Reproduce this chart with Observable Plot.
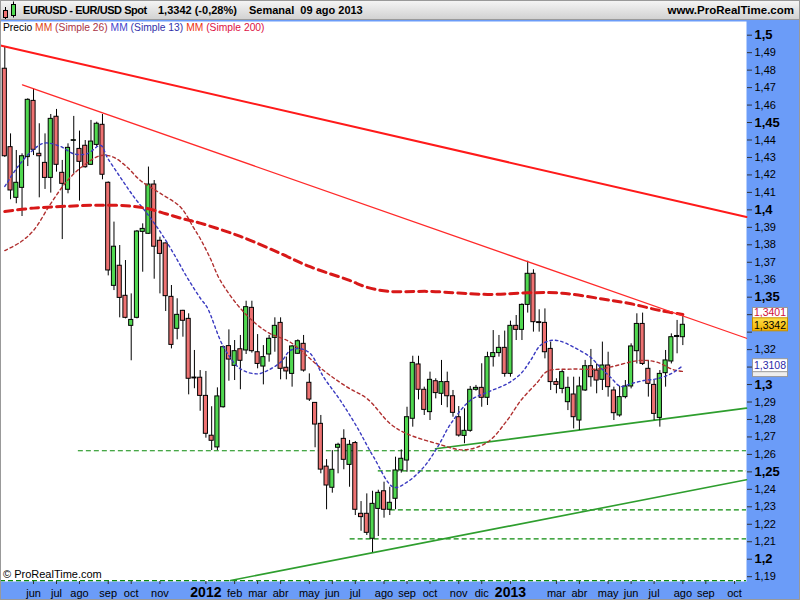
<!DOCTYPE html>
<html><head><meta charset="utf-8">
<script src="https://cdn.jsdelivr.net/npm/d3@7"></script>
<script src="https://cdn.jsdelivr.net/npm/@observablehq/plot@0.6"></script>
<style>
body{margin:0;background:#fff;}
#wrap{position:relative;width:800px;height:600px;overflow:hidden;font-family:"Liberation Sans",Arial,sans-serif;}
#hdr{position:absolute;left:0;top:0;width:800px;height:20px;background:linear-gradient(#f6f6f6,#d2d2d2);border-bottom:1px solid #9a9a9a;box-sizing:border-box;}
#hdr span{position:absolute;top:4px;font-weight:bold;font-size:11px;color:#000;white-space:nowrap;}
#chart{position:absolute;left:0;top:20px;}
#legend{position:absolute;left:3px;top:22px;font-size:10.3px;white-space:nowrap;}
#copy{position:absolute;left:3px;top:568px;font-size:11px;color:#000;}
#border{position:absolute;left:0;top:0;width:800px;height:600px;box-shadow:inset 0 0 0 1px #999;pointer-events:none;}
</style></head>
<body>
<div id="wrap">
  <div id="chart"></div>
  <div id="hdr">
    <svg width="20" height="20" style="position:absolute;left:0;top:0">
      <line x1="5.5" y1="7" x2="5.5" y2="19" stroke="#000"/>
      <rect x="3.5" y="10.5" width="4" height="7" fill="#ee7272" stroke="#000"/>
      <line x1="13.5" y1="1.5" x2="13.5" y2="17.5" stroke="#000"/>
      <rect x="11.5" y="4.5" width="4" height="11" fill="#50d850" stroke="#000"/>
    </svg>
    <span style="left:23px;letter-spacing:-0.45px">EURUSD - EUR/USD Spot</span>
    <span style="left:158px">1,3342 (-0,28%)</span>
    <span style="left:249px">Semanal&nbsp; 09 ago 2013</span>
    <span style="right:6px;font-size:11.5px">www.ProRealTime.com</span>
  </div>
  <div id="legend"><span style="color:#000">Precio </span><span style="color:#dd4411">MM</span><span style="color:#aa3344"> (Simple 26) </span><span style="color:#4444cc">MM</span><span style="color:#3333aa"> (Simple 13) </span><span style="color:#ee3311">MM</span><span style="color:#dd1144"> (Simple 200)</span></div>
  <div id="copy">© ProRealTime.com</div>
  <div id="border"></div>
</div>
<script>
// ---- Weekly candles, index 0 = week of 2 May 2011, last = week of 5 Aug 2013 ----
const open = [1.4808,1.4359,1.4069,1.4126,1.4302,1.4624,1.4321,1.4269,1.4183,1.4533,
1.4212,1.4115,1.4395,1.4349,1.4367,1.4258,1.4372,1.4487,1.4155,1.3565,
1.3680,1.3508,1.3336,1.3382,1.3874,1.3863,1.4145,1.3823,1.3808,1.3502,
1.3319,1.3422,1.3376,1.3040,1.3039,1.2935,1.2707,1.2640,1.2870,1.3220,
1.3107,1.3202,1.3195,1.3439,1.3185,1.3103,1.3172,1.3267,1.3353,1.3096,
1.3061,1.3176,1.3233,1.3010,1.2895,1.2775,1.2530,1.2409,1.2638,1.2689,
1.2540,1.2665,1.2260,1.2260,1.2117,1.2288,1.2389,1.2283,1.2346,1.2508,
1.2565,1.2804,1.3115,1.2970,1.2842,1.3019,1.2947,1.3014,1.2933,1.2813,
1.2706,1.2735,1.2970,1.2981,1.2924,1.3157,1.3180,1.3210,1.3061,1.3336,
1.3313,1.3456,1.3634,1.3357,1.3353,1.3204,1.3014,1.2975,1.2899,1.2943,
1.2794,1.2966,1.3105,1.3080,1.3027,1.3109,1.2966,1.2823,1.2928,1.2989,
1.3191,1.3347,1.3090,1.2998,1.2809,1.3065,1.3132,1.3272,1.3271];
const high = [1.4935,1.4435,1.4340,1.4321,1.4636,1.4693,1.4493,1.4435,1.4546,1.4575,
1.4283,1.4378,1.4535,1.4451,1.4397,1.4512,1.4502,1.4546,1.4160,1.3930,
1.3796,1.3710,1.3519,1.3882,1.3920,1.4245,1.4168,1.3844,1.3810,1.3567,
1.3491,1.3425,1.3405,1.3195,1.3080,1.3075,1.2873,1.2981,1.3220,1.3313,
1.3252,1.3281,1.3477,1.3477,1.3286,1.3223,1.3281,1.3382,1.3382,1.3157,
1.3223,1.3256,1.3281,1.3061,1.2897,1.2823,1.2570,1.2622,1.2664,1.2741,
1.2680,1.2674,1.2330,1.2374,1.2389,1.2395,1.2441,1.2412,1.2584,1.2626,
1.2870,1.3162,1.3162,1.2985,1.3071,1.3033,1.3138,1.3071,1.2966,1.2874,
1.2861,1.2989,1.2995,1.3119,1.3185,1.3309,1.3281,1.3306,1.3363,1.3395,
1.3462,1.3706,1.3657,1.3428,1.3433,1.3243,1.3033,1.3081,1.3042,1.3042,
1.3042,1.3138,1.3201,1.3118,1.3243,1.3185,1.2985,1.2989,1.3023,1.3233,
1.3405,1.3409,1.3138,1.3023,1.3080,1.3195,1.3290,1.3367,1.3395];
const low = [1.4300,1.4058,1.4035,1.3962,1.4248,1.4311,1.4069,1.4117,1.4096,1.4216,
1.3830,1.4092,1.4206,1.4050,1.4239,1.4254,1.4359,1.4172,1.3622,1.3538,
1.3382,1.3376,1.3136,1.3376,1.3643,1.3860,1.3603,1.3519,1.3418,1.3204,
1.3256,1.3271,1.2941,1.2976,1.2847,1.2693,1.2622,1.2622,1.2865,1.3019,
1.3023,1.2970,1.3172,1.3180,1.3090,1.2998,1.3128,1.3185,1.3027,1.3027,
1.2985,1.3172,1.3071,1.2903,1.2638,1.2489,1.2283,1.2378,1.2489,1.2512,
1.2412,1.2250,1.2160,1.2136,1.2038,1.2130,1.2235,1.2250,1.2283,1.2493,
1.2498,1.2756,1.2912,1.2823,1.2794,1.2918,1.2880,1.2867,1.2813,1.2699,
1.2661,1.2727,1.2962,1.2870,1.2880,1.3100,1.3157,1.3042,1.3042,1.3252,
1.3252,1.3409,1.3300,1.3300,1.3147,1.2966,1.2947,1.2947,1.2851,1.2746,
1.2737,1.2960,1.2985,1.2947,1.2966,1.2928,1.2794,1.2813,1.2918,1.2975,
1.3118,1.3109,1.2928,1.2794,1.2756,1.2985,1.3118,1.3176,1.3223];
const close = [1.4307,1.4111,1.4155,1.4307,1.4630,1.4344,1.4307,1.4183,1.4521,1.4258,
1.4149,1.4355,1.4399,1.4275,1.4244,1.4391,1.4493,1.4201,1.3653,1.3789,
1.3496,1.3382,1.3370,1.3876,1.3891,1.4145,1.3789,1.3748,1.3506,1.3227,
1.3399,1.3365,1.3033,1.3035,1.2935,1.2718,1.2678,1.2932,1.3214,1.3143,
1.3191,1.3136,1.3443,1.3191,1.3118,1.3157,1.3262,1.3336,1.3090,1.3075,
1.3218,1.3248,1.3080,1.2914,1.2771,1.2513,1.2422,1.2512,1.2655,1.2569,
1.2655,1.2283,1.2241,1.2151,1.2317,1.2380,1.2283,1.2323,1.2508,1.2575,
1.2813,1.3124,1.2970,1.2855,1.3027,1.2951,1.3014,1.2933,1.2838,1.2708,
1.2735,1.2970,1.2981,1.2924,1.3157,1.3180,1.3210,1.3061,1.3336,1.3313,
1.3456,1.3634,1.3357,1.3352,1.3185,1.3014,1.2998,1.3071,1.2981,1.2813,
1.2989,1.3105,1.3042,1.3023,1.3109,1.2985,1.2836,1.2928,1.2989,1.3218,
1.3347,1.3118,1.3004,1.2832,1.3061,1.3138,1.3271,1.3278,1.3342];

// ---- Moving averages (week index, value) ----
const ma200Idx = [0,5,11,17,22,25,28,31,34,41,48,53,60,63,67,74,84,91,97,104,109,114,118];
const ma200Val = [1.3991,1.4010,1.4021,1.4027,1.4021,1.4006,1.3978,1.3949,1.3924,1.3848,1.3750,1.3676,1.3596,1.3557,1.3533,1.3533,1.3516,1.3525,1.3523,1.3490,1.3462,1.3424,1.3401];
const ma26Idx = [0,2.7,5,8,10.9,13.7,16.7,18.9,21.3,23.6,27.1,30.6,32.8,34.1,35.8,37.5,41.6,45.7,49.7,55.5,59.6,63.1,67.1,70,75.3,79.9,84,87.4,89.8,92.7,94.4,98.4,103.7,110.6,113.5,116.4,118];
const ma26Val = [1.3767,1.3815,1.3882,1.4036,1.4168,1.4254,1.4311,1.4302,1.4244,1.4168,1.4094,1.4015,1.3901,1.3830,1.3720,1.3596,1.3414,1.3300,1.3242,1.3080,1.2985,1.2918,1.2775,1.2718,1.2661,1.2626,1.2670,1.2794,1.2909,1.3013,1.3076,1.3088,1.3090,1.3138,1.3128,1.3084,1.3075];
const ma13Idx = [0,2.2,4.5,6.8,9.7,12,14.3,16.7,17.8,20.1,22.5,24.8,27.1,29.4,31.7,34.1,35.2,38.1,41,43.9,45.7,48,49.7,51.5,53.2,55.5,58.4,61.3,64.2,67.7,70,72.9,75.3,77.6,81,84,87.4,89.8,91.5,93.2,95,96.7,99,101.9,103.7,105.4,107.2,108.9,111.2,113.5,115.9,118];
const ma13Val = [1.4134,1.4244,1.4330,1.4382,1.4363,1.4321,1.4321,1.4369,1.4302,1.4187,1.4073,1.3977,1.3872,1.3749,1.3615,1.3491,1.3443,1.3214,1.3090,1.3061,1.3080,1.3128,1.3195,1.3205,1.3176,1.3042,1.2909,1.2756,1.2584,1.2412,1.2441,1.2527,1.2641,1.2775,1.2909,1.2956,1.3004,1.3062,1.3138,1.3224,1.3252,1.3248,1.3214,1.3157,1.3096,1.3042,1.2989,1.3004,1.3023,1.3033,1.3061,1.3108];

// ---- Drawn trend lines (endpoints in week index / price) ----
const redThickIdx = [-0.75, 129.08], redThickVal = [1.4941, 1.3959];
const redThinIdx = [3.08, 129.08], redThinVal = [1.4716, 1.3265];
const greenUpIdx = [74.96, 129.08], greenUpVal = [1.2632, 1.2865];
const greenLowIdx = [39.28, 129.08], greenLowVal = [1.1878, 1.2455];
// ---- Horizontal support levels ----
const levelVal = [1.2621, 1.2506, 1.2283, 1.2117, 1.1877];
const levelStart = [12.8, 65, 67.1, 60.1, -0.75];

// ---- Axis ticks (1,31 1,33 1,34 are hidden behind the value tags) ----
const yTicks = [1.19,1.2,1.21,1.22,1.23,1.24,1.25,1.26,1.27,1.28,1.29,1.3,1.31,1.32,1.33,1.34,1.35,1.36,1.37,1.38,1.39,1.4,1.41,1.42,1.43,1.44,1.45,1.46,1.47,1.48,1.49,1.5];
const yBold = [1.2,1.25,1.3,1.35,1.4,1.45,1.5];
const yHidden = [1.31,1.33,1.34];
const monthIdx = [5,9,13,18,22,27,40,44,48,53,57,61,66,70,74,79,83,96,100,105,109,113,118,122,127];
const monthLbl = ["jun","jul","ago","sep","oct","nov","feb","mar","abr","may","jun","jul","ago","sep","oct","nov","dic","mar","abr","may","jun","jul","ago","sep","oct"];
const yearIdx = [35, 88];
const yearLbl = ["2012","2013"];

// ---- Right-axis value tags (MM200, price, MM26 hidden, MM13) ----
const tagVal = [1.3401, 1.3342, 1.3080, 1.3108];
const tagTxt = ["1,3401", "1,3342", "", "1,3108"];
const tagColor = ["#d0103a", "#000", "#993333", "#2a2aa8"];
const tagFill = ["#fff", "url(#gold)", "#eeeeee", "#fff"];
const tagTextShift = [-1.5, 0.5, 0, 0];

const X_DOMAIN = [-0.748, 129.08];
const Y_DOMAIN = [1.18724, 1.50784];
const UP = "#50d850", DOWN = "#ee7272";

const candles = open.map((o, i) => ({i, o, h: high[i], l: low[i], c: close[i]}));
const pts = (I, V) => I.map((i, k) => ({i, v: V[k]}));
const levels = levelVal.map((v, k) => ({v, s: levelStart[k]}));
const fmt = d => String(+d.toFixed(2)).replace(".", ",");
const inList = (L, d) => L.some(b => Math.abs(b - d) < 1e-6);
const mLab = new Map(monthIdx.map((d, k) => [d, monthLbl[k]]));
const yLab = new Map(yearIdx.map((d, k) => [d, yearLbl[k]]));
const yNormal = yTicks.filter(d => !inList(yBold, d) && !inList(yHidden, d));

const chart = Plot.plot({
  width: 800, height: 580,
  marginLeft: 0, marginRight: 54, marginTop: 1, marginBottom: 19,
  x: {domain: X_DOMAIN, axis: null},
  y: {domain: Y_DOMAIN, axis: null},
  style: {background: "#6b9cf8", fontFamily: "Liberation Sans, Arial, sans-serif", overflow: "visible"},
  marks: [
    Plot.frame({fill: "white"}),
    Plot.ruleY(levels, {y: "v", x1: "s", x2: X_DOMAIN[1], stroke: "#0b8a0b", strokeWidth: 1.2, strokeDasharray: "5,3"}),
    Plot.line(pts(greenUpIdx, greenUpVal), {x: "i", y: "v", stroke: "#2e9e2e", strokeWidth: 1.6}),
    Plot.line(pts(greenLowIdx, greenLowVal), {x: "i", y: "v", stroke: "#2e9e2e", strokeWidth: 1.6}),
    Plot.ruleX(candles, {x: "i", y1: "l", y2: "h", stroke: "#000", strokeWidth: 1}),
    Plot.rect(candles.filter(d => d.c >= d.o), {x1: d => d.i - 0.36, x2: d => d.i + 0.36, y1: "o", y2: "c", fill: UP, stroke: "#000", strokeWidth: 1}),
    Plot.rect(candles.filter(d => d.c < d.o), {x1: d => d.i - 0.36, x2: d => d.i + 0.36, y1: "o", y2: "c", fill: DOWN, stroke: "#000", strokeWidth: 1}),
    Plot.line(pts(ma26Idx, ma26Val), {x: "i", y: "v", curve: "catmull-rom", stroke: "#b03030", strokeWidth: 1.4, strokeDasharray: "3,3"}),
    Plot.line(pts(ma13Idx, ma13Val), {x: "i", y: "v", curve: "catmull-rom", stroke: "#3a3ac0", strokeWidth: 1.4, strokeDasharray: "2.5,3"}),
    Plot.line(pts(ma200Idx, ma200Val), {x: "i", y: "v", curve: "catmull-rom", stroke: "#d81818", strokeWidth: 3, strokeDasharray: "8,5"}),
    Plot.line(pts(redThickIdx, redThickVal), {x: "i", y: "v", stroke: "#ff1a1a", strokeWidth: 2}),
    Plot.line(pts(redThinIdx, redThinVal), {x: "i", y: "v", stroke: "#ff2a2a", strokeWidth: 1.3}),
    Plot.axisY(yHidden, {anchor: "right", tickSize: 5, tickFormat: () => "", stroke: "#333", label: null}),
    Plot.axisY(yNormal, {anchor: "right", tickSize: 5, tickPadding: 3, tickFormat: fmt, fontSize: 11, stroke: "#333", fill: "#000", label: null}),
    Plot.axisY(yBold, {anchor: "right", tickSize: 5, tickPadding: 3, tickFormat: fmt, fontSize: 13, fontWeight: "bold", stroke: "#333", fill: "#000", label: null}),
    Plot.axisX(monthIdx, {anchor: "bottom", tickSize: 3, tickPadding: 5, tickFormat: d => mLab.get(d), fontSize: 11, stroke: "#333", fill: "#000", label: null}),
    Plot.axisX(yearIdx, {anchor: "bottom", tickSize: 3, tickPadding: 3, tickFormat: d => yLab.get(d), fontSize: 14, fontWeight: "bold", stroke: "#333", fill: "#000", label: null})
  ]
});
document.getElementById("chart").appendChild(chart);

// value tags on the right axis, positioned through Plot's own scales
const ys = chart.scale("y"), xs = chart.scale("x");
const xr = xs.range[1];
const svg = d3.select(chart);
const defs = svg.append("defs");
const gr = defs.append("linearGradient").attr("id", "gold").attr("x1", 0).attr("y1", 0).attr("x2", 0).attr("y2", 1);
gr.append("stop").attr("offset", 0).attr("stop-color", "#ffe04a");
gr.append("stop").attr("offset", 1).attr("stop-color", "#f0b000");
const order = [0, 2, 1, 3];
const g = svg.append("g").attr("font-size", 10.5).attr("font-family", "Liberation Sans, Arial, sans-serif");
for (const k of order) {
  const y = ys.apply(tagVal[k]);
  g.append("rect").attr("x", xr + 6.5).attr("y", y - 6.5).attr("width", 35).attr("height", 13)
    .attr("fill", tagFill[k]).attr("stroke", k === 1 ? "#c89000" : "#999");
  if (tagTxt[k]) g.append("text").attr("x", xr + 24).attr("y", y + 3.8 + tagTextShift[k]).attr("text-anchor", "middle")
    .attr("fill", tagColor[k]).text(tagTxt[k]);
}
</script>
</body></html>
